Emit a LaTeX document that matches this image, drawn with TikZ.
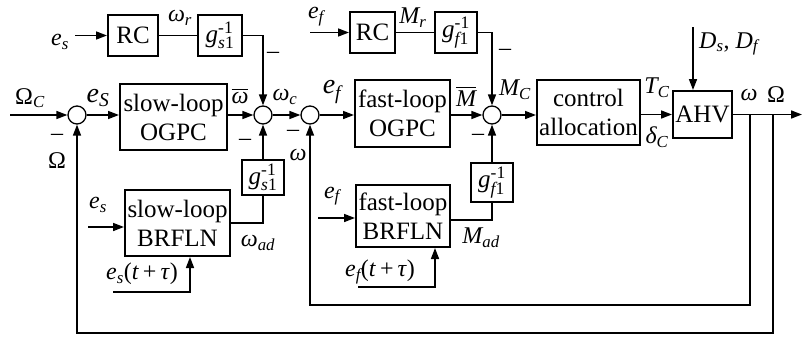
\documentclass[tikz,border=0pt]{standalone}
\usepackage{amsmath}
\usepackage{fontspec}
\setmainfont{Liberation Serif}
\usetikzlibrary{arrows.meta}
\newcommand\ginv[1]{$\text{\itshape g}^{\text{-1}}_{\text{\itshape #1}\text{1}}$}
\newcommand\isub[2]{$\text{\itshape #1}_{\text{\itshape #2}}$}
\newcommand\usub[2]{$\text{#1}_{\text{\itshape #2}}$}
\begin{document}
\begin{tikzpicture}[x=1pt,y=-1pt,
  blk/.style={draw,line width=2pt,inner sep=0pt,align=center,font=\fontsize{25}{29}\selectfont},
  sumn/.style={circle,draw,line width=1.3pt,minimum size=18pt,inner sep=0pt},
  lbl/.style={font=\fontsize{24}{27}\selectfont,inner sep=0pt},
  big/.style={font=\fontsize{28}{30}\selectfont,inner sep=0pt},
  sig/.style={line width=1.6pt},
  thinl/.style={line width=1pt},
  arr/.style={sig,-{Triangle[length=11pt,width=8pt]}}]
\useasboundingbox (0,0) rectangle (803,340);
% sums
\node[sumn] (s1) at (77,115) {};
\node[sumn] (s2) at (263,115) {};
\node[sumn] (s3) at (310,115) {};
\node[sumn] (s4) at (492,115) {};
% blocks
\node[blk,minimum width=50pt,minimum height=41pt] (rc1) at (133,35.5) {RC};
\node[blk,minimum width=44pt,minimum height=41pt] (gs1u) at (220,35.5) {\ginv{s}};
\node[blk,minimum width=107pt,minimum height=66pt] (ogpcs) at (173.5,117) {slow-loop\\OGPC};
\node[blk,minimum width=42pt,minimum height=35pt] (gs1l) at (263,177.5) {\ginv{s}};
\node[blk,minimum width=105pt,minimum height=66pt] (brflns) at (177.5,223) {slow-loop\\BRFLN};
\node[blk,minimum width=45pt,minimum height=41pt] (rc2) at (372.5,32.5) {RC};
\node[blk,minimum width=42pt,minimum height=41pt] (gf1u) at (456,32.5) {\ginv{f}};
\node[blk,minimum width=95pt,minimum height=67pt] (ogpcf) at (402.5,113.5) {fast-loop\\OGPC};
\node[blk,minimum width=42pt,minimum height=39pt] (gf1l) at (492,182.5) {\ginv{f}};
\node[blk,minimum width=94pt,minimum height=62pt] (brflnf) at (403,216) {fast-loop\\BRFLN};
\node[blk,minimum width=103pt,minimum height=65pt] (ca) at (588.5,112.5) {control\\allocation};
\node[blk,minimum width=59pt,minimum height=47pt] (ahv) at (702.5,114.5) {AHV};
% coordinates
\coordinate (in) at (10,115);
\coordinate (out) at (802,114.5);
\coordinate (tapw) at (750,114.5);
\coordinate (tapO) at (773,114.5);
\coordinate (dtop) at (693,27);
\coordinate (es1) at (75,35.5);
\coordinate (ef1) at (310,32.5);
\coordinate (es2) at (88,227);
\coordinate (ef2) at (318,218);
\coordinate (est) at (113,292);
\coordinate (eft) at (358,287);
% main path
\draw[arr] (in) -- (s1);
\draw[arr] (s1) -- (s1 -| ogpcs.west);
\draw[arr] (ogpcs.east |- s2) -- (s2);
\draw[arr] (s2) -- (s3);
\draw[arr] (s3) -- (s3 -| ogpcf.west);
\draw[arr] (ogpcf.east |- s4) -- (s4);
\draw[arr] (s4) -- (s4 -| ca.west);
\draw[arr] (ca.east |- ahv) -- (ahv);
\draw[arr] (ahv) -- (out);
\draw[arr] (dtop) -- (ahv.north -| dtop);
% upper branches
\draw[arr] (es1) -- (rc1);
\draw[thinl] (rc1) -- (gs1u);
\draw[arr] (gs1u.east) -| (s2);
\draw[arr] (ef1) -- (rc2);
\draw[thinl] (rc2) -- (gf1u);
\draw[arr] (gf1u.east) -| (s4);
% lower branches
\draw[arr] (es2) -- (es2 -| brflns.west);
\draw[sig] (brflns.east) -| (gs1l.south);
\draw[arr] (gs1l) -- (s2);
\draw[arr] (est) -| ([xshift=12.5pt]brflns.south);
\draw[arr] (ef2) -- (ef2 -| brflnf.west);
\draw[sig] ([yshift=-4pt]brflnf.east) -| (gf1l.south);
\draw[arr] (gf1l) -- (s4);
\draw[arr] (eft) -| ([xshift=32pt]brflnf.south);
% feedback
\draw[arr] (tapw) -- (tapw |- 0,305) -| (s3);
\draw[arr] (tapO) -- (tapO |- 0,333) -| (s1);
% labels
\node[lbl] (lOc) at (30,98) {\usub{Ω}{C}};
\node[lbl] (m1) at (57,137) {–};
\node[lbl] (lO1) at (57,161) {Ω};
\node[big] (les) at (98,98) {\isub{e}{S}};
\node[lbl] (lwb) at (240,96) {$\overline{\text{\itshape ω}}$};
\node[lbl] (lwc) at (285,97) {\isub{ω}{c}};
\node[lbl] (m2t) at (273,55) {–};
\node[lbl] (m2b) at (245,142) {–};
\node[big] (lef) at (332,92) {\isub{e}{f}};
\node[lbl] (lw1) at (298,155) {\textit{ω}};
\node[lbl] (m3) at (293,133) {–};
\node[lbl] (lMb) at (466,96) {$\overline{\text{\itshape M}}$};
\node[lbl] (lMc) at (515,90) {\isub{M}{C}};
\node[lbl] (m4t) at (505,52) {–};
\node[lbl] (m4b) at (478,137) {–};
\node[lbl] (lTc) at (657,88) {\isub{T}{C}};
\node[lbl] (ldc) at (657,137) {\isub{δ}{C}};
\node[lbl,anchor=west] (lD) at (699,44) {\isub{D}{s}, \isub{D}{f}};
\node[lbl] (lwo) at (749,95) {\textit{ω}};
\node[lbl] (lOo) at (776,95) {Ω};
\node[lbl] (les1) at (60,42) {\isub{e}{s}};
\node[lbl] (lwr) at (180,18) {\isub{ω}{r}};
\node[lbl] (lef1) at (316,17) {\isub{e}{f}};
\node[lbl] (lMr) at (413,18) {\isub{M}{r}};
\node[lbl] (les2) at (98,205) {\isub{e}{s}};
\node[lbl] (lwad) at (258,243) {\isub{ω}{ad}};
\node[lbl] (lest) at (142,274) {\isub{e}{s}(\textit{t}\,+\,\textit{τ})};
\node[lbl] (lef2) at (332,196) {\isub{e}{f}};
\node[lbl] (lMad) at (481,238) {\isub{M}{ad}};
\node[lbl] (left) at (380,272) {\isub{e}{f}(\textit{t}\,+\,\textit{τ})};
\end{tikzpicture}
\end{document}
